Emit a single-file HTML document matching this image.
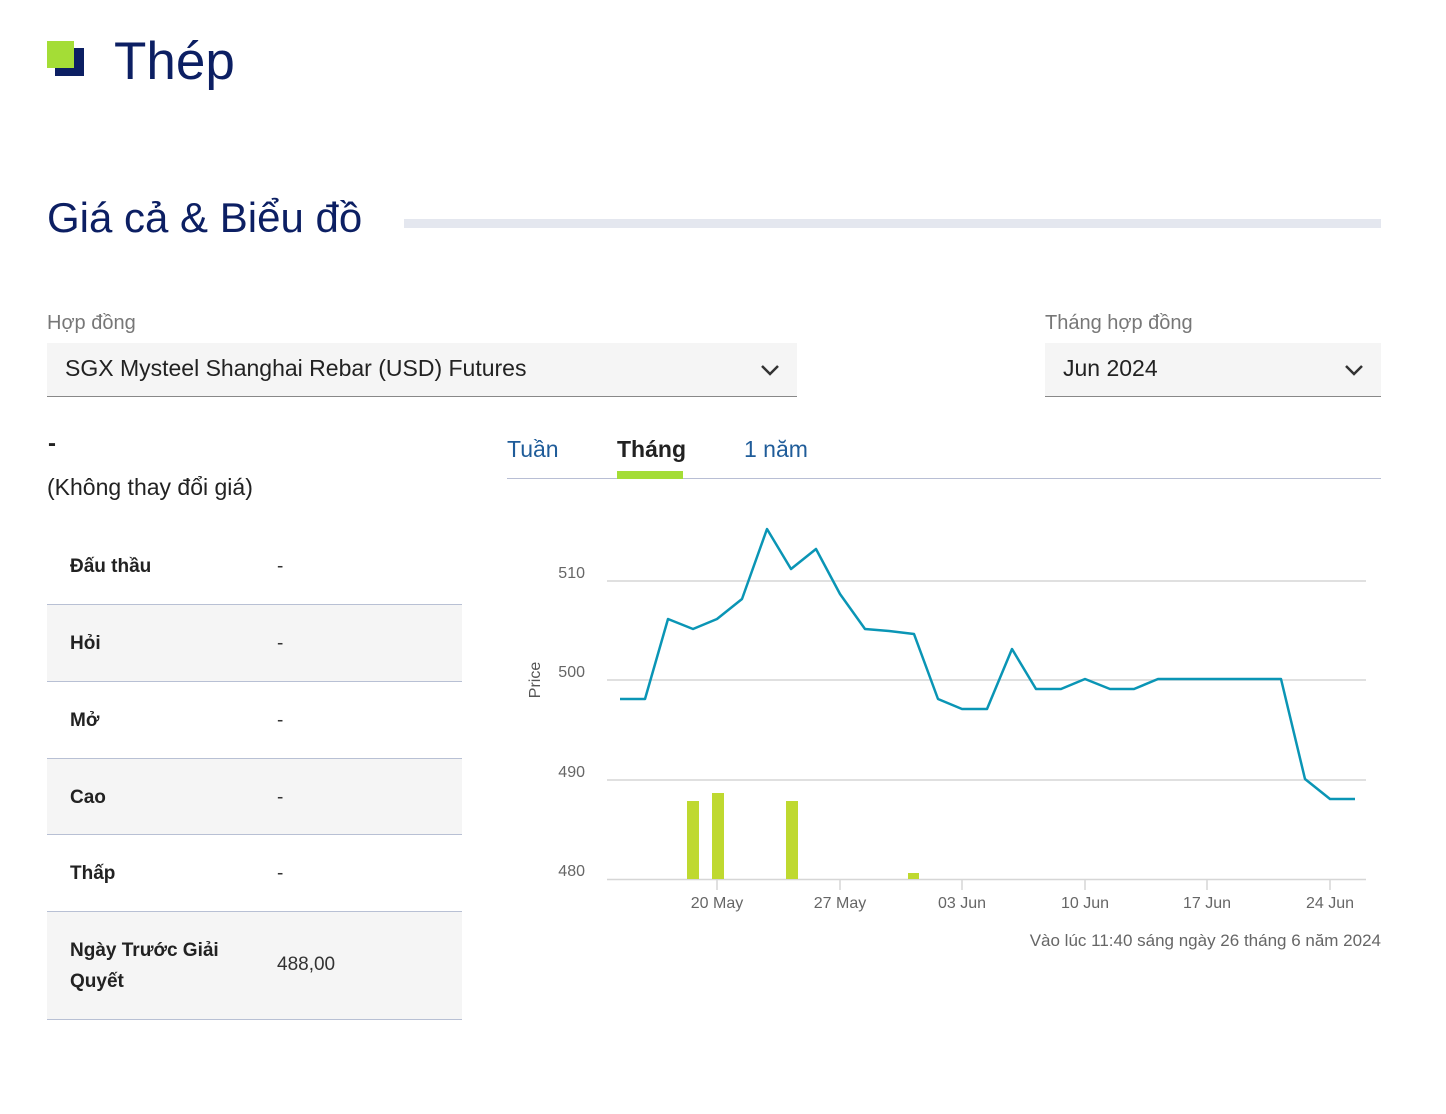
<!DOCTYPE html>
<html><head><meta charset="utf-8"><style>
*{margin:0;padding:0;box-sizing:border-box}
body{width:1446px;height:1114px;background:#fff;font-family:"Liberation Sans",sans-serif;position:relative;overflow:hidden;color:#222}
.a{position:absolute;white-space:nowrap}
.row{position:absolute;left:47px;width:415px;border-bottom:1px solid #b8c0d4}
.row .l{position:absolute;left:23px;font-size:19px;font-weight:bold;color:#222}
.row .v{position:absolute;left:230px;font-size:19px;color:#333}
.g{background:#f5f5f5}
</style></head><body>
<div class="a" style="left:55px;top:48px;width:29px;height:28px;background:#0c1f63"></div>
<div class="a" style="left:47px;top:41px;width:27px;height:27px;background:#a4dd36"></div>
<div class="a" style="left:114px;top:31px;font-size:53px;color:#0c1f63">Thép</div>
<div class="a" style="left:47px;top:194px;font-size:42px;color:#0c1f63">Giá cả &amp; Biểu đồ</div>
<div class="a" style="left:404px;top:219px;width:977px;height:9px;background:#e4e7ef"></div>

<div class="a" style="left:47px;top:312px;font-size:20px;color:#777">Hợp đồng</div>
<div class="a" style="left:47px;top:343px;width:750px;height:54px;background:#f5f5f5;border-bottom:1px solid #888"></div>
<div class="a" style="left:65px;top:355px;font-size:23px;color:#222">SGX Mysteel Shanghai Rebar (USD) Futures</div>
<svg class="a" style="left:760px;top:363px" width="20" height="14"><path d="M2 3 L10 11 L18 3" fill="none" stroke="#333" stroke-width="2.5"/></svg>

<div class="a" style="left:1045px;top:312px;font-size:20px;color:#777">Tháng hợp đồng</div>
<div class="a" style="left:1045px;top:343px;width:336px;height:54px;background:#f5f5f5;border-bottom:1px solid #888"></div>
<div class="a" style="left:1063px;top:355px;font-size:23px;color:#222">Jun 2024</div>
<svg class="a" style="left:1344px;top:363px" width="20" height="14"><path d="M2 3 L10 11 L18 3" fill="none" stroke="#333" stroke-width="2.5"/></svg>

<div class="a" style="left:48px;top:430px;font-size:24px;font-weight:bold">-</div>
<div class="a" style="left:47px;top:474px;font-size:23px;color:#222">(Không thay đổi giá)</div>

<div class="row" style="top:528px;height:77px"><span class="l" style="top:28px">Đấu thầu</span><span class="v" style="top:28px">-</span></div>
<div class="row g" style="top:605px;height:77px"><span class="l" style="top:28px">Hỏi</span><span class="v" style="top:28px">-</span></div>
<div class="row" style="top:682px;height:77px"><span class="l" style="top:28px">Mở</span><span class="v" style="top:28px">-</span></div>
<div class="row g" style="top:759px;height:76px"><span class="l" style="top:28px">Cao</span><span class="v" style="top:28px">-</span></div>
<div class="row" style="top:835px;height:77px"><span class="l" style="top:28px">Thấp</span><span class="v" style="top:28px">-</span></div>
<div class="row g" style="top:912px;height:108px"><span class="l" style="top:23px;line-height:31px">Ngày Trước Giải<br>Quyết</span><span class="v" style="top:42px">488,00</span></div>

<div class="a" style="left:507px;top:436px;font-size:23px;color:#1f5c99">Tuần</div>
<div class="a" style="left:617px;top:436px;font-size:23px;font-weight:bold;color:#222">Tháng</div>
<div class="a" style="left:744px;top:436px;font-size:23px;color:#1f5c99">1 năm</div>
<div class="a" style="left:507px;top:478px;width:874px;height:1px;background:#b8bed4"></div>
<div class="a" style="left:617px;top:471px;width:66px;height:8px;background:#a4dd36"></div>

<svg class="a" style="left:0;top:0" width="1446" height="1114">
<g stroke="#d6d6d6" stroke-width="1.5">
<line x1="607" y1="581" x2="1366" y2="581"/><line x1="607" y1="680" x2="1366" y2="680"/>
<line x1="607" y1="780" x2="1366" y2="780"/><line x1="607" y1="879.5" x2="1366" y2="879.5"/>
<line x1="717" y1="880" x2="717" y2="890"/><line x1="840" y1="880" x2="840" y2="890"/><line x1="962" y1="880" x2="962" y2="890"/><line x1="1085" y1="880" x2="1085" y2="890"/><line x1="1207" y1="880" x2="1207" y2="890"/><line x1="1330" y1="880" x2="1330" y2="890"/>
</g>
<g fill="#bfd930">
<rect x="687" y="801" width="12" height="78"/><rect x="712" y="793" width="12" height="86"/><rect x="786" y="801" width="12" height="78"/><rect x="908" y="873" width="11" height="6"/>
</g>
<polyline fill="none" stroke="#0a95b5" stroke-width="2.5" stroke-linejoin="round" points="620,699 645,699 668,619 693,629 717,619 742,599 767,529 791,569 816,549 840,594 865,629 889,631 914,634 938,699 962,709 987,709 1012,649 1036,689 1061,689 1085,679 1110,689 1134,689 1158,679 1281,679 1305,779 1330,799 1355,799"/>
<g font-family="Liberation Sans, sans-serif" font-size="16" fill="#666">
<text x="585" y="578" text-anchor="end">510</text><text x="585" y="677" text-anchor="end">500</text><text x="585" y="777" text-anchor="end">490</text><text x="585" y="876" text-anchor="end">480</text>
<text x="717" y="908" text-anchor="middle">20 May</text><text x="840" y="908" text-anchor="middle">27 May</text><text x="962" y="908" text-anchor="middle">03 Jun</text><text x="1085" y="908" text-anchor="middle">10 Jun</text><text x="1207" y="908" text-anchor="middle">17 Jun</text><text x="1330" y="908" text-anchor="middle">24 Jun</text>
<text transform="translate(540,680) rotate(-90)" text-anchor="middle" fill="#555">Price</text>
<text x="1381" y="946" text-anchor="end" font-size="17">Vào lúc 11:40 sáng ngày 26 tháng 6 năm 2024</text>
</g>
</svg>
</body></html>
